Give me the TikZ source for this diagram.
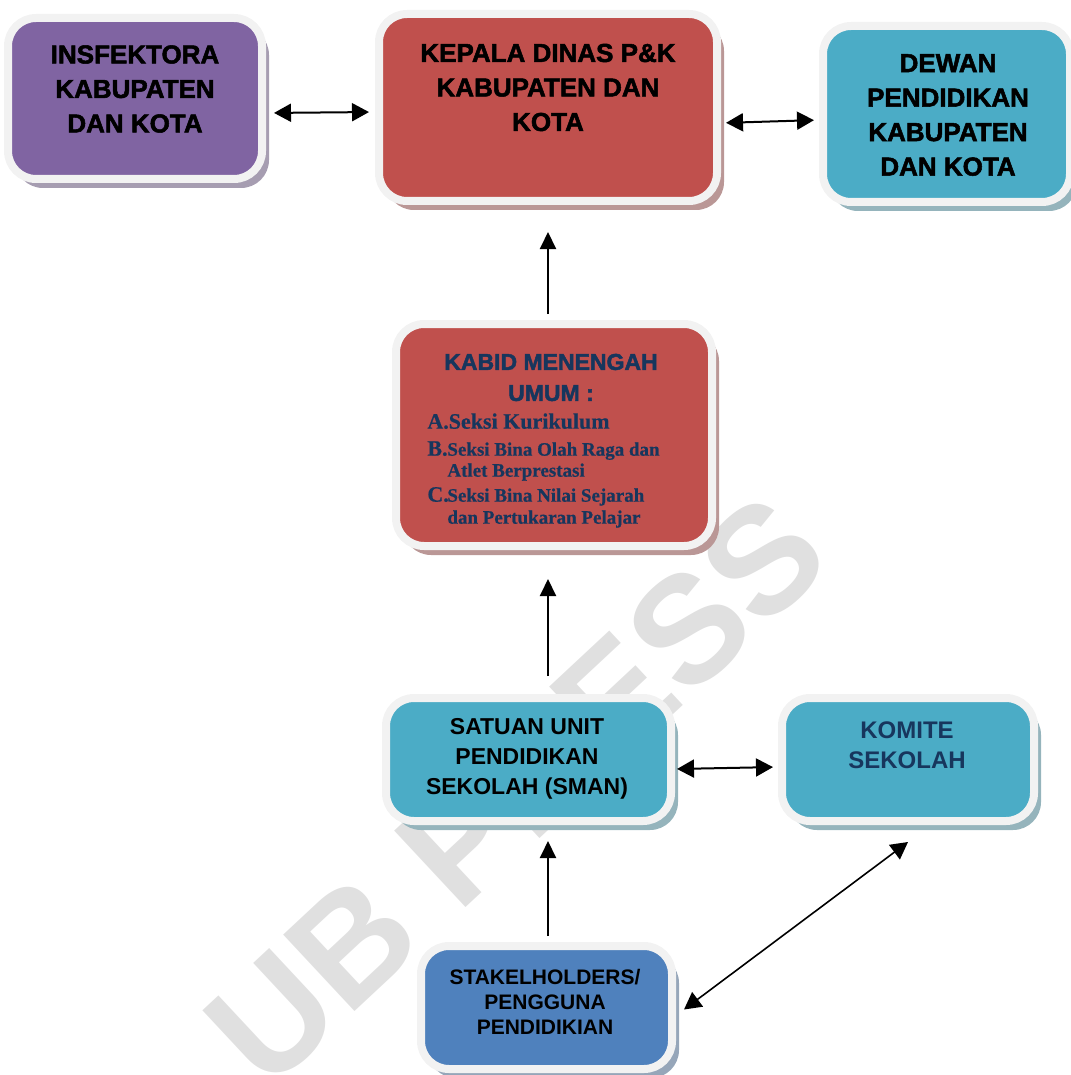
\documentclass[tikz,border=0pt]{standalone}
\usepackage{fontspec}
\setmainfont{Liberation Sans}
\newfontfamily\blackfont[FakeBold=2]{Liberation Sans Bold}
\newfontfamily\itemfont[FakeBold=0.6]{Liberation Serif}
\usetikzlibrary{arrows.meta,shadows,positioning}

\definecolor{purplefill}{HTML}{8064A2}
\definecolor{redfill}{HTML}{C0504D}
\definecolor{aquafill}{HTML}{4BACC6}
\definecolor{bluefill}{HTML}{4F81BD}
\definecolor{framegray}{HTML}{F2F2F2}
\definecolor{navytext}{HTML}{17365D}
\definecolor{markgray}{HTML}{E0E0E0}

\begin{document}
\begin{tikzpicture}[x=0.5pt,y=-0.5pt,
    orgbox/.style={rectangle, rounded corners=14pt, inner sep=0pt, fill=#1,
      draw=framegray, line width=4pt,
      general shadow={fill=#1!45!gray!70, shadow xshift=3.5pt, shadow yshift=-4.5pt}},
    headtext/.style={font=\blackfont\fontsize{13}{17.25}\selectfont, align=center},
    link/.style={line width=1pt, {Triangle[length=8.5pt,width=9pt]}-{Triangle[length=8.5pt,width=9pt]}},
    uplink/.style={line width=1pt, -{Triangle[length=8.5pt,width=8pt]}}]
  \useasboundingbox (0,0) rectangle (1070,1075);

  % watermark
  \node[font=\bfseries\fontsize{76}{76}\selectfont, text=markgray, rotate=43] (mark) at (516,790) {UB PRESS};

  % boxes
  \node[orgbox=purplefill, minimum width=127pt, minimum height=80.5pt] (insp) at (135,98.5) {};
  \node[orgbox=redfill, minimum width=169pt, minimum height=93.5pt] (kepala) at (548,107.5) {};
  \node[orgbox=aquafill, minimum width=123.5pt, minimum height=88pt] (dewan) at (946.5,114) {};
  \node[orgbox=redfill, minimum width=158pt, minimum height=111pt] (kabid) at (554,435) {};
  \node[orgbox=aquafill, minimum width=142.5pt, minimum height=61.5pt] (satuan) at (528.5,759.5) {};
  \node[orgbox=aquafill, minimum width=126pt, minimum height=61.5pt] (komite) at (908,759.5) {};
  \node[orgbox=bluefill, minimum width=125.5pt, minimum height=61.5pt] (stake) at (546.5,1007.5) {};

  % texts
  \node[headtext] (insptxt) at (135,89) {INSFEKTORA\\KABUPATEN\\DAN KOTA};
  \node[headtext] (kepalatxt) at (548,87.5) {KEPALA DINAS P\&K\\KABUPATEN DAN\\KOTA};
  \node[headtext] (dewantxt) at (948,115) {DEWAN\\PENDIDIKAN\\KABUPATEN\\DAN KOTA};
  \node[font=\blackfont\fontsize{11.5}{15.5}\selectfont, text=navytext, align=center] (kabidtxt) at (551,377.5) {KABID MENENGAH\\UMUM :};
  \node[font=\itemfont\bfseries\fontsize{9.5}{11}\selectfont, text=navytext, align=left,
        anchor=north west, inner sep=0pt] (kabiditems) at (427,413)
    {{\fontsize{11}{11}\selectfont A.Seksi Kurikulum}\\[2.5pt]
     \makebox[10pt][l]{\fontsize{11}{11}\selectfont B.}Seksi Bina Olah Raga dan\\[-0.5pt]
     \hspace*{10pt}Atlet Berprestasi\\[1.5pt]
     \makebox[10pt][l]{\fontsize{11}{11}\selectfont C.}Seksi Bina Nilai Sejarah\\
     \hspace*{10pt}dan Pertukaran Pelajar};
  \node[font=\bfseries\fontsize{11.5}{15}\selectfont, align=center] (satuantxt) at (527,758.7) {SATUAN UNIT\\PENDIDIKAN\\SEKOLAH (SMAN)};
  \node[font=\bfseries\fontsize{12}{15}\selectfont, text=navytext, align=center] (komitetxt) at (907,745) {KOMITE\\SEKOLAH};
  \node[font=\bfseries\fontsize{10.5}{12.5}\selectfont, align=center] (staketxt) at (545,1002) {STAKELHOLDERS/\\PENGGUNA\\PENDIDIKIAN};

  % connectors
  \draw[link, shorten <=4pt, shorten >=3pt] ([yshift=-7.25pt]insp.east) -- ([yshift=-2.25pt]kepala.west);
  \draw[link, shorten <=2.5pt, shorten >=2.5pt] ([yshift=-7.75pt]kepala.east) -- ([yshift=-3pt]dewan.west);
  \draw[uplink, shorten <=3pt, shorten >=13.5pt] (kabid.north -| kepala.south) -- (kepala.south);
  \draw[uplink, shorten <=9pt, shorten >=14.5pt] (satuan.north -| kepala.south) -- (kabid.south -| kepala.south);
  \draw[uplink, shorten <=3pt, shorten >=8pt] (stake.north -| kepala.south) -- (satuan.south -| kepala.south);
  \draw[link, shorten <=1pt, shorten >=2.5pt] ([yshift=-4.75pt]satuan.east) -- ([yshift=-3.75pt]komite.west);
  \draw[link, line width=0.8pt] ([xshift=4pt,yshift=-1pt]stake.east) -- ([yshift=-8.5pt]komite.south);
\end{tikzpicture}
\end{document}
